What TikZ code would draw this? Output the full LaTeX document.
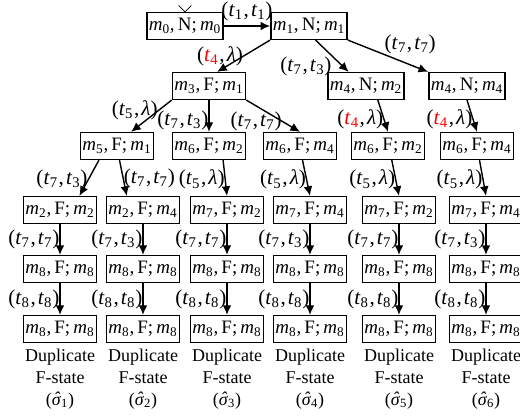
\documentclass[tikz,border=0pt]{standalone}
\usepackage{fontspec}
\setmainfont{Liberation Serif}
\usetikzlibrary{arrows.meta,positioning}

\newcommand{\mk}[1]{\textit{m}\textsubscript{#1}}
\newcommand{\tr}[1]{\textit{t}\textsubscript{#1}}
\newcommand{\lam}{\textit{λ}}
\newcommand{\sg}[1]{(\textit{\accent"02C6 σ}\textsubscript{#1})}
\newcommand{\pr}[2]{(#1\kern0.6pt,\kern1.5pt#2)}

\tikzset{
  st/.style={draw, line width=1pt, inner xsep=1.5pt, inner ysep=0pt, minimum height=0.67cm, font=\fontsize{13.5}{15}\selectfont},
  lbl/.style={inner sep=0pt, font=\fontsize{15}{17}\selectfont},
  arr/.style={line width=1pt, -{Latex[length=2.4mm,width=2.2mm]}},
  note/.style={align=center, inner sep=0pt, font=\fontsize{12.8}{15.5}\selectfont},
}

\begin{document}
\begin{tikzpicture}[x=0.025cm,y=-0.025cm]
  \useasboundingbox (0,0) rectangle (520,419);
  % top states
  \node[st] (s0) at (185,26) {\mk{0},\,N;\,\mk{0}};
  \node[st] (s1) at (309,26) {\mk{1},\,N;\,\mk{1}};
  \draw[line width=0.6pt] ([xshift=-0.16cm,yshift=0.16cm]s0.north) -- (s0.north) -- ([xshift=0.16cm,yshift=0.16cm]s0.north);
  \node[st] (s3) at (209,86) {\mk{3},\,F;\,\mk{1}};
  \node[st] (s4a) at (366,86) {\mk{4},\,N;\,\mk{2}};
  \node[st] (s4b) at (467,86) {\mk{4},\,N;\,\mk{4}};
  % third row
  \node[st] (s5) at (117,146) {\mk{5},\,F;\,\mk{1}};
  \node[st] (s6a) at (209,146) {\mk{6},\,F;\,\mk{2}};
  \node[st] (s6b) at (300,146) {\mk{6},\,F;\,\mk{4}};
  \node[st] (s6c) at (388,146) {\mk{6},\,F;\,\mk{2}};
  \node[st] (s6d) at (477,146) {\mk{6},\,F;\,\mk{4}};
  % fourth row
  \node[st] (r1) at (60,210) {\mk{2},\,F;\,\mk{2}};
  \node[st] (r2) at (143,210) {\mk{2},\,F;\,\mk{4}};
  \node[st] (r3) at (227,210) {\mk{7},\,F;\,\mk{2}};
  \node[st] (r4) at (310,210) {\mk{7},\,F;\,\mk{4}};
  \node[st] (r5) at (399,210) {\mk{7},\,F;\,\mk{2}};
  \node[st] (r6) at (486,210) {\mk{7},\,F;\,\mk{4}};

  \draw[arr] (s0) -- node[lbl,above=3pt] {\pr{\tr{1}}{\tr{1}}} (s1);
  \draw[arr] (s1.south west) -- node[lbl,left] {\pr{\textcolor{red}{\tr{4}}}{\lam}} (s3.60);
  \draw[arr] (s1.-65) -- node[lbl,anchor=north east] {\pr{\tr{7}}{\tr{3}}} (s4a.141);
  \draw[arr] (s1.south east) -- node[lbl,pos=.45,anchor=south west] {\pr{\tr{7}}{\tr{7}}} (s4b.north west);

  \draw[arr] (s3.south west) -- node[lbl,pos=.33,anchor=east] {\pr{\tr{5}}{\lam}} (s5.45);
  \draw[arr] (s3) -- node[lbl,pos=.65,left] {\pr{\tr{7}}{\tr{3}}} (s6a);
  \draw[arr] (s3.south east) -- node[lbl,pos=.67,anchor=east] {\pr{\tr{7}}{\tr{7}}} (s6b.north);
  \draw[arr] (s4a.-50) -- node[lbl,pos=.6,anchor=east] {\pr{\textcolor{red}{\tr{4}}}{\lam}} (s6c.north);
  \draw[arr] (s4b.south) -- node[lbl,pos=.6,anchor=east] {\pr{\textcolor{red}{\tr{4}}}{\lam}} (s6d.north);

  \draw[arr] (s5.-142) -- node[lbl,pos=.55,anchor=east] {\pr{\tr{7}}{\tr{3}}} (r1.36);
  \draw[arr] (s5.-80) -- node[lbl,pos=.5,anchor=west] {\pr{\tr{7}}{\tr{7}}} (r2.139);
  \draw[arr] (s6a.-45) -- node[lbl,pos=.55,anchor=east] {\pr{\tr{5}}{\lam}} (r3.north);
  \draw[arr] (s6b.-80) -- node[lbl,pos=.55,anchor=east] {\pr{\tr{5}}{\lam}} (r4.north);
  \draw[arr] (s6c.-75) -- node[lbl,pos=.55,anchor=east] {\pr{\tr{5}}{\lam}} (r5.north);
  \draw[arr] (s6d.-80) -- node[lbl,pos=.55,anchor=east] {\pr{\tr{5}}{\lam}} (r6.north);

  % last two rows and the notes
  \foreach \x/\i/\k in {60/1/7,143/2/3,227/3/7,310/4/3,399/5/7,486/6/3}{
    \node[st] (p\i) at (\x,269) {\mk{8},\,F;\,\mk{8}};
    \node[st] (q\i) at (\x,329) {\mk{8},\,F;\,\mk{8}};
    \draw[arr] (r\i) -- node[lbl,left] {\pr{\tr{7}}{\tr{\k}}} (p\i);
    \draw[arr] (p\i) -- node[lbl,left] {\pr{\tr{8}}{\tr{8}}} (q\i);
    \node[note,below=4pt of q\i] {Duplicate\\F-state\\\sg{\i}};
  }
\end{tikzpicture}
\end{document}
